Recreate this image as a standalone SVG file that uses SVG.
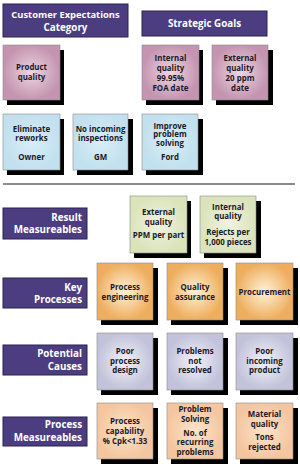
<svg xmlns="http://www.w3.org/2000/svg" width="300" height="468" viewBox="0 0 300 468">
<style>
.hdr{fill:#4b3d7f;stroke:#2a2250;stroke-width:1}
.ht{font-family:"Open Sans","Liberation Sans",sans-serif;font-weight:bold;fill:#fff;font-size:9.8px}
.bt{font-family:"Open Sans","Liberation Sans",sans-serif;font-weight:bold;fill:#1c1a28;font-size:7.9px;text-anchor:middle}
.sh{fill:#000}
.bx{stroke:#8a8a8a;stroke-width:0.6}
.pink{fill:url(#gPink)}
.blue{fill:url(#gBlue)}
.green{fill:url(#gGreen)}
.orange{fill:url(#gOrange)}
.lav{fill:url(#gLav)}
.peach{fill:url(#gPeach)}
</style>
<defs>
<radialGradient id="gPink"><stop offset="0" stop-color="#ecd6e2"/><stop offset="1" stop-color="#c594b0"/></radialGradient>
<radialGradient id="gBlue"><stop offset="0" stop-color="#d8eef8"/><stop offset="1" stop-color="#c2e0ee"/></radialGradient>
<radialGradient id="gGreen"><stop offset="0" stop-color="#f0f3e0"/><stop offset="1" stop-color="#dbe3bb"/></radialGradient>
<radialGradient id="gOrange"><stop offset="0" stop-color="#fff2d8"/><stop offset="1" stop-color="#eeae5e"/></radialGradient>
<radialGradient id="gLav"><stop offset="0" stop-color="#f2f2fa"/><stop offset="1" stop-color="#c2c2da"/></radialGradient>
<radialGradient id="gPeach"><stop offset="0" stop-color="#fde4cc"/><stop offset="1" stop-color="#f4c6a0"/></radialGradient>
</defs>

<g id="hdr-customer">
<rect class="hdr" x="3" y="4" width="125" height="33"/>
<text class="ht" x="65.5" y="18" text-anchor="middle" style="font-size:9.4px">Customer Expectations</text>
<text class="ht" x="65.5" y="30.5" text-anchor="middle">Category</text>
</g>
<g id="hdr-goals">
<rect class="hdr" x="142" y="11" width="125" height="25"/>
<text class="ht" x="204.5" y="27" text-anchor="middle">Strategic Goals</text>
</g>

<g id="n-product-quality">
<rect class="sh" x="7" y="50" width="57" height="55"/>
<rect class="bx pink" x="3" y="45" width="57" height="55"/>
<text class="bt" x="31.5" y="70">Product</text>
<text class="bt" x="31.5" y="80">quality</text>
</g>
<g id="n-internal-goal">
<rect class="sh" x="146" y="50" width="57" height="55"/>
<rect class="bx pink" x="142" y="45" width="57" height="55"/>
<text class="bt" x="170.5" y="61">Internal</text>
<text class="bt" x="170.5" y="71">quality</text>
<text class="bt" x="170.5" y="81">99.95%</text>
<text class="bt" x="170.5" y="90.5">FOA date</text>
</g>
<g id="n-external-goal">
<rect class="sh" x="216" y="50" width="57" height="55"/>
<rect class="bx pink" x="212" y="45" width="56" height="55"/>
<text class="bt" x="240" y="61">External</text>
<text class="bt" x="240" y="71">quality</text>
<text class="bt" x="240" y="81">20 ppm</text>
<text class="bt" x="240" y="90.5">date</text>
</g>

<g id="n-eliminate">
<rect class="sh" x="7" y="119" width="57" height="56"/>
<rect class="bx blue" x="3" y="114" width="57" height="56"/>
<text class="bt" x="31.5" y="131.5">Eliminate</text>
<text class="bt" x="31.5" y="141">reworks</text>
<text class="bt" x="31.5" y="160">Owner</text>
</g>
<g id="n-no-incoming">
<rect class="sh" x="77" y="119" width="56" height="56"/>
<rect class="bx blue" x="73" y="114" width="55" height="56"/>
<text class="bt" x="100.5" y="131.5">No incoming</text>
<text class="bt" x="100.5" y="141">inspections</text>
<text class="bt" x="100.5" y="160">GM</text>
</g>
<g id="n-improve">
<rect class="sh" x="146" y="119" width="57" height="56"/>
<rect class="bx blue" x="142" y="114" width="56" height="56"/>
<text class="bt" x="170" y="128.5">Improve</text>
<text class="bt" x="170" y="137">problem</text>
<text class="bt" x="170" y="145.5">solving</text>
<text class="bt" x="170" y="160">Ford</text>
</g>

<g id="separator">
<rect x="3" y="183" width="292" height="2" fill="#8c8c8c"/>
</g>

<g id="lbl-result">
<rect class="hdr" x="3" y="208" width="84" height="31"/>
<text class="ht" x="82" y="220.5" text-anchor="end">Result</text>
<text class="ht" x="82" y="233" text-anchor="end">Measureables</text>
</g>
<g id="n-external-ppm">
<rect class="sh" x="134" y="201" width="57" height="57"/>
<rect class="bx green" x="130" y="196" width="57" height="57"/>
<text class="bt" x="158.5" y="215">External</text>
<text class="bt" x="158.5" y="225">quality</text>
<text class="bt" x="158.5" y="238">PPM per part</text>
</g>
<g id="n-internal-rejects">
<rect class="sh" x="204" y="201" width="57" height="57"/>
<rect class="bx green" x="200" y="196" width="56" height="57"/>
<text class="bt" x="228" y="210">Internal</text>
<text class="bt" x="228" y="219">quality</text>
<text class="bt" x="228" y="235">Rejects per</text>
<text class="bt" x="228" y="245">1,000 pieces</text>
</g>

<g id="lbl-key">
<rect class="hdr" x="3" y="278" width="84" height="30"/>
<text class="ht" x="82" y="290.5" text-anchor="end">Key</text>
<text class="ht" x="82" y="302.5" text-anchor="end">Processes</text>
</g>
<g id="n-process-eng">
<rect class="sh" x="101" y="268" width="57" height="57"/>
<rect class="bx orange" x="97" y="263" width="56" height="57"/>
<text class="bt" x="125" y="290">Process</text>
<text class="bt" x="125" y="299.5">engineering</text>
</g>
<g id="n-quality-assurance">
<rect class="sh" x="171" y="268" width="57" height="57"/>
<rect class="bx orange" x="167" y="263" width="56" height="57"/>
<text class="bt" x="195" y="290">Quality</text>
<text class="bt" x="195" y="299.5">assurance</text>
</g>
<g id="n-procurement">
<rect class="sh" x="240" y="268" width="58" height="57"/>
<rect class="bx orange" x="236" y="263" width="57" height="57"/>
<text class="bt" x="264.5" y="295">Procurement</text>
</g>

<g id="lbl-causes">
<rect class="hdr" x="3" y="345" width="84" height="30"/>
<text class="ht" x="82" y="357" text-anchor="end">Potential</text>
<text class="ht" x="82" y="369.5" text-anchor="end">Causes</text>
</g>
<g id="n-poor-design">
<rect class="sh" x="101" y="338" width="57" height="57"/>
<rect class="bx lav" x="97" y="333" width="56" height="57"/>
<text class="bt" x="125" y="354">Poor</text>
<text class="bt" x="125" y="364">process</text>
<text class="bt" x="125" y="373">design</text>
</g>
<g id="n-not-resolved">
<rect class="sh" x="171" y="338" width="57" height="57"/>
<rect class="bx lav" x="167" y="333" width="56" height="57"/>
<text class="bt" x="195" y="354">Problems</text>
<text class="bt" x="195" y="364">not</text>
<text class="bt" x="195" y="373">resolved</text>
</g>
<g id="n-poor-incoming">
<rect class="sh" x="240" y="338" width="58" height="57"/>
<rect class="bx lav" x="236" y="333" width="57" height="57"/>
<text class="bt" x="264.5" y="354">Poor</text>
<text class="bt" x="264.5" y="364">incoming</text>
<text class="bt" x="264.5" y="373">product</text>
</g>

<g id="lbl-process-meas">
<rect class="hdr" x="3" y="417" width="84" height="29"/>
<text class="ht" x="82" y="428" text-anchor="end">Process</text>
<text class="ht" x="82" y="440.5" text-anchor="end">Measureables</text>
</g>
<g id="n-capability">
<rect class="sh" x="101" y="408" width="57" height="56"/>
<rect class="bx peach" x="97" y="403" width="56" height="56"/>
<text class="bt" x="125" y="424">Process</text>
<text class="bt" x="125" y="434">capability</text>
<text class="bt" x="125" y="443.5">% Cpk&lt;1.33</text>
</g>
<g id="n-problem-solving">
<rect class="sh" x="171" y="408" width="57" height="56"/>
<rect class="bx peach" x="167" y="403" width="56" height="56"/>
<text class="bt" x="195" y="412">Problem</text>
<text class="bt" x="195" y="422">Solving</text>
<text class="bt" x="195" y="436">No. of</text>
<text class="bt" x="195" y="445">recurring</text>
<text class="bt" x="195" y="454.5">problems</text>
</g>
<g id="n-material">
<rect class="sh" x="240" y="408" width="58" height="56"/>
<rect class="bx peach" x="236" y="403" width="57" height="56"/>
<text class="bt" x="264.5" y="417">Material</text>
<text class="bt" x="264.5" y="426.5">quality</text>
<text class="bt" x="264.5" y="440">Tons</text>
<text class="bt" x="264.5" y="450">rejected</text>
</g>
</svg>
